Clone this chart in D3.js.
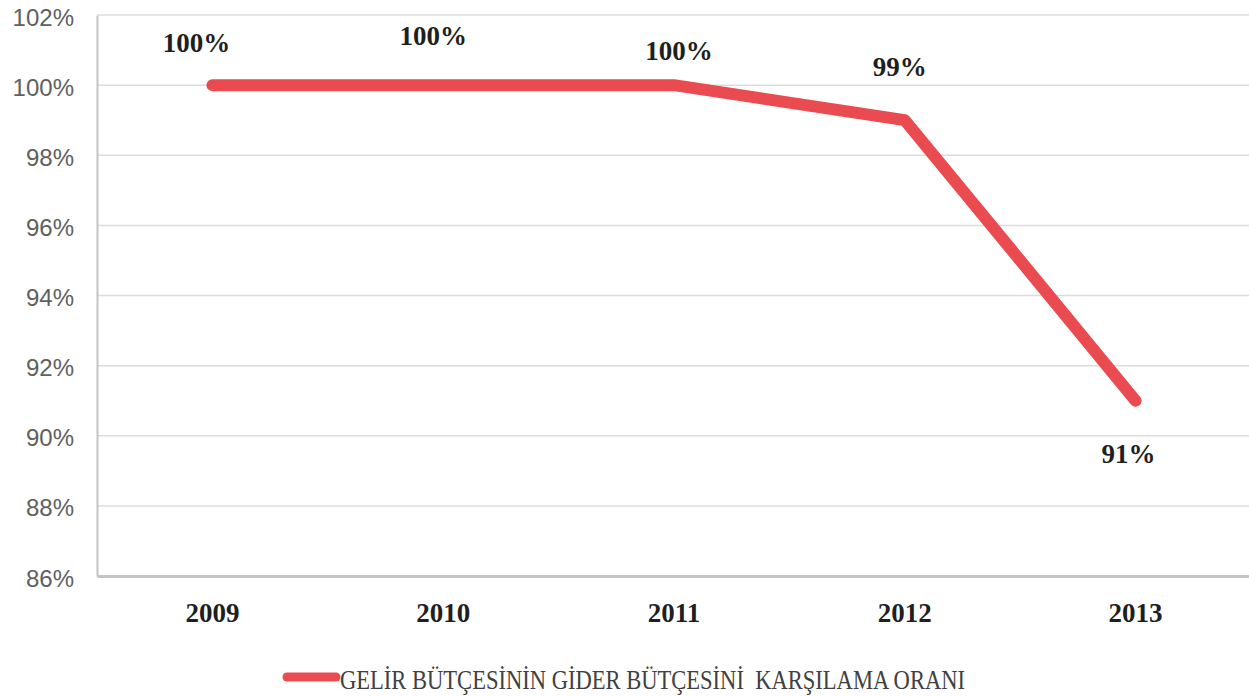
<!DOCTYPE html>
<html>
<head>
<meta charset="utf-8">
<script src="https://cdn.jsdelivr.net/npm/d3@7"></script>
<style>
  body { margin: 0; background: #fff; }
  svg { display: block; }
</style>
</head>
<body>
<div class="line_chart"></div>
<script>
// data
const years = ["2009", "2010", "2011", "2012", "2013"];
const ratio = [100, 100, 100, 99, 91];
const yTicks = [86, 88, 90, 92, 94, 96, 98, 100, 102];
const seriesName = "GELİR BÜTÇESİNİN GİDER BÜTÇESİNİ  KARŞILAMA ORANI";

// hand placed label offsets (layout only)
const labelShift = [[-16, -33], [-10, -40], [5, -25], [-5, -44], [-7, 62]];

const W = 1249, H = 696;
const M = {top: 15, left: 97, bottom: 120};
const RED = "#ea4b51";

const svg = d3.select(".line_chart")
  .append("svg")
  .attr("width", W)
  .attr("height", H);

const x = d3.scaleBand()
  .domain(years)
  .range([M.left, 1251]);

const y = d3.scaleLinear()
  .domain([86, 102])
  .range([H - M.bottom, M.top]);

// gridlines
svg.append("g")
  .selectAll("line")
  .data(yTicks.filter(d => d > 86))
  .enter().append("line")
  .attr("x1", M.left)
  .attr("x2", W)
  .attr("y1", d => y(d))
  .attr("y2", d => y(d))
  .attr("stroke", "#dcdcdc")
  .attr("stroke-width", 1.5);

// y axis
const yAxis = d3.axisLeft(y)
  .tickValues(yTicks)
  .tickSize(0)
  .tickPadding(23)
  .tickFormat(d => d + "%");

svg.append("g")
  .attr("class", "y axis")
  .attr("transform", "translate(" + M.left + ",0)")
  .call(yAxis)
  .call(g => g.select(".domain").attr("stroke", "#c4c4c4").attr("stroke-width", 2))
  .selectAll("text")
  .attr("dy", "0.42em")
  .style("font-family", "'Liberation Sans', Arial, sans-serif")
  .style("font-size", "24px")
  .attr("fill", "#606060");

// x axis
const xAxis = d3.axisBottom(x).tickSize(0).tickPadding(27);

svg.append("g")
  .attr("class", "x axis")
  .attr("transform", "translate(0," + y(86) + ")")
  .call(xAxis)
  .call(g => g.select(".domain").attr("stroke", "#c4c4c4").attr("stroke-width", 3))
  .selectAll("text")
  .style("font-family", "'Liberation Serif', 'Times New Roman', serif")
  .style("font-size", "27px")
  .style("font-weight", "bold")
  .attr("fill", "#1f1f1f");

// line
const cx = d => x(d) + x.bandwidth() / 2;
const pts = years.map((d, i) => [cx(d), y(ratio[i])]);

svg.append("path")
  .datum(pts)
  .attr("d", d3.line())
  .attr("fill", "none")
  .attr("stroke", RED)
  .attr("stroke-width", 12)
  .attr("stroke-linecap", "round")
  .attr("stroke-linejoin", "round");

// data labels
svg.append("g")
  .selectAll("text")
  .data(years)
  .enter().append("text")
  .attr("x", (d, i) => cx(d) + labelShift[i][0])
  .attr("y", (d, i) => y(ratio[i]) + labelShift[i][1])
  .attr("text-anchor", "middle")
  .style("font-family", "'Liberation Serif', 'Times New Roman', serif")
  .style("font-size", "27px")
  .style("font-weight", "bold")
  .attr("fill", "#1f1f1f")
  .text((d, i) => ratio[i] + "%");

// legend
const lg = svg.append("g").attr("class", "legend");
lg.append("line")
  .attr("x1", 287).attr("x2", 336)
  .attr("y1", 677).attr("y2", 677)
  .attr("stroke", RED)
  .attr("stroke-width", 9)
  .attr("stroke-linecap", "round");
lg.append("text")
  .attr("x", 340)
  .attr("y", 689)
  .attr("textLength", 625)
  .attr("lengthAdjust", "spacingAndGlyphs")
  .style("font-family", "'Liberation Serif', 'Times New Roman', serif")
  .style("font-size", "28px")
  .attr("fill", "#404040")
  .attr("xml:space", "preserve")
  .style("white-space", "pre")
  .text(seriesName);
</script>
</body>
</html>
